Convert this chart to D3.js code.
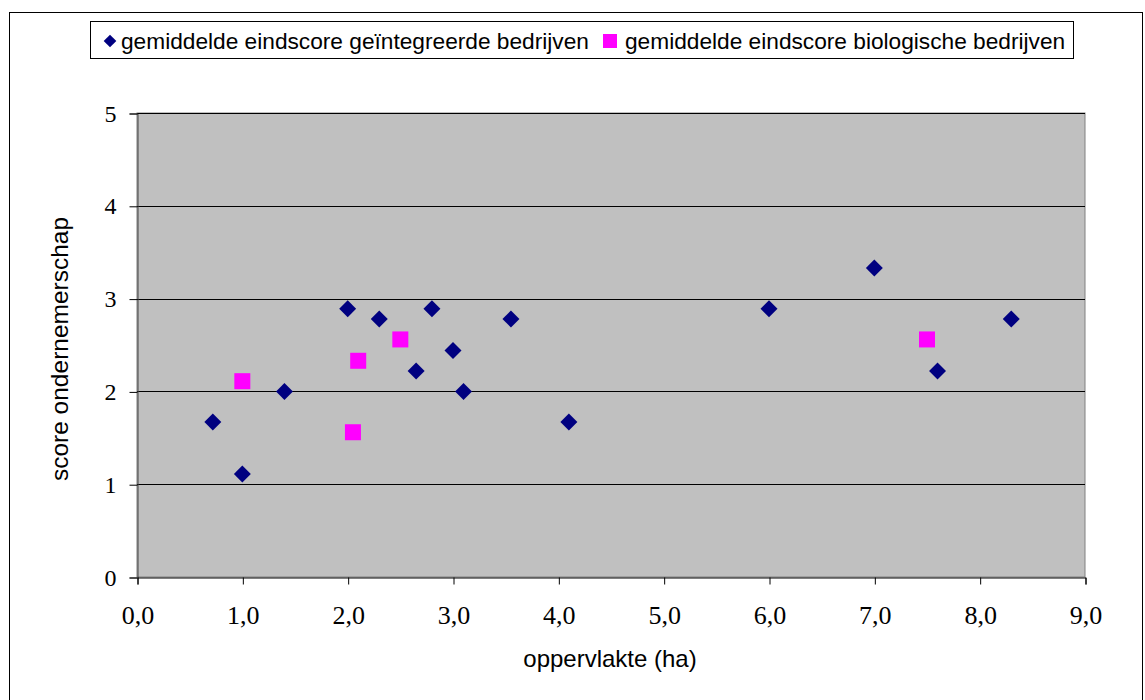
<!DOCTYPE html>
<html>
<head>
<meta charset="utf-8">
<script src="https://cdn.jsdelivr.net/npm/d3@7"></script>
<style>
  body { margin: 0; background: #fff; }
  svg { display: block; }
</style>
</head>
<body>
<div id="chart"></div>
<script>
// values
const integratedX = [0.72, 1.0, 1.4, 2.0, 2.3, 2.8, 2.65, 3.0, 3.1, 3.55, 4.1, 6.0, 7.0, 7.6, 8.3];
const integratedY = [1.67, 1.11, 2.0, 2.89, 2.78, 2.89, 2.22, 2.44, 2.0, 2.78, 1.67, 2.89, 3.33, 2.22, 2.78];
const organicX = [1.0, 2.05, 2.1, 2.5, 7.5];
const organicY = [2.11, 1.56, 2.33, 2.56, 2.56];
const xTicks = [0, 1, 2, 3, 4, 5, 6, 7, 8, 9];
const yTicks = [0, 1, 2, 3, 4, 5];
const seriesNames = ["gemiddelde eindscore geïntegreerde bedrijven", "gemiddelde eindscore biologische bedrijven"];

const W = 1145, H = 700;
const plot = { left: 137, top: 113, right: 1085, bottom: 577 };
const sans = "'Liberation Sans Narrow', 'Arial Narrow', 'Liberation Sans', Arial, sans-serif";
const serif = "'Liberation Serif', 'Times New Roman', serif";

const svg = d3.select("#chart").append("svg")
    .attr("width", W)
    .attr("height", H);

// outer chart border
svg.append("rect")
    .attr("x", 9.5).attr("y", 12.5)
    .attr("width", 1133).attr("height", 700)
    .attr("fill", "#fff")
    .attr("stroke", "#000")
    .attr("stroke-width", 1);

const x = d3.scaleLinear().domain([0, 9]).range([plot.left, plot.right]);
const y = d3.scaleLinear().domain([0, 5]).range([plot.bottom, plot.top]);

// plot background
svg.append("rect")
    .attr("x", plot.left).attr("y", plot.top)
    .attr("width", plot.right - plot.left)
    .attr("height", plot.bottom - plot.top)
    .attr("fill", "#c0c0c0")
    .attr("stroke", "#808080")
    .attr("stroke-width", 1);

// gridlines
svg.append("g")
    .selectAll("line")
    .data(yTicks.filter(d => d > 0))
    .enter().append("line")
    .attr("x1", plot.left).attr("x2", plot.right)
    .attr("y1", d => Math.round(y(d)) + 0.5)
    .attr("y2", d => Math.round(y(d)) + 0.5)
    .attr("stroke", "#000")
    .attr("stroke-width", 1);

// y axis
const yAxis = svg.append("g")
    .attr("transform", "translate(" + (plot.left + 0.5) + ",0.5)")
    .call(d3.axisLeft(y).tickValues(yTicks).tickSize(8).tickPadding(13).tickFormat(d3.format("d")));
yAxis.select(".domain").attr("stroke", "#444");
yAxis.selectAll(".tick line").attr("stroke", "#000");
yAxis.selectAll("text")
    .attr("font-family", serif)
    .attr("font-size", 24)
    .attr("fill", "#000");

// x axis
const xAxis = svg.append("g")
    .attr("transform", "translate(0.5," + (plot.bottom + 0.5) + ")")
    .call(d3.axisBottom(x).tickValues(xTicks).tickSize(7).tickPadding(21)
        .tickFormat(d => d.toFixed(1).replace(".", ",")));
xAxis.select(".domain").attr("stroke", "#000");
xAxis.selectAll(".tick line").attr("stroke", "#000");
xAxis.selectAll("text")
    .attr("font-family", serif)
    .attr("font-size", 26)
    .attr("fill", "#000");

// axis titles
svg.append("text")
    .attr("x", 610).attr("y", 667)
    .attr("text-anchor", "middle")
    .attr("font-family", sans)
    .attr("font-size", 24)
    .text("oppervlakte (ha)");

svg.append("text")
    .attr("transform", "translate(68,349) rotate(-90)")
    .attr("text-anchor", "middle")
    .attr("font-family", sans)
    .attr("font-size", 24.5)
    .text("score ondernemerschap");

// series
const integrated = integratedX.map((v, i) => ({ x: v, y: integratedY[i] }));
const organic = organicX.map((v, i) => ({ x: v, y: organicY[i] }));

const diamond = d3.symbol().type(d3.symbolSquare).size(144);

svg.append("g")
    .selectAll("path")
    .data(integrated)
    .enter().append("path")
    .attr("d", diamond)
    .attr("transform", d => "translate(" + x(d.x) + "," + y(d.y) + ") rotate(45)")
    .attr("fill", "#000080");

svg.append("g")
    .selectAll("rect")
    .data(organic)
    .enter().append("rect")
    .attr("x", d => x(d.x) - 8)
    .attr("y", d => y(d.y) - 8)
    .attr("width", 16).attr("height", 16)
    .attr("fill", "#ff00ff");

// legend
const legend = svg.append("g");
legend.append("rect")
    .attr("x", 90.5).attr("y", 21.5)
    .attr("width", 983).attr("height", 37)
    .attr("fill", "#fff")
    .attr("stroke", "#000");

legend.append("path")
    .attr("d", d3.symbol().type(d3.symbolSquare).size(80))
    .attr("transform", "translate(110,41) rotate(45)")
    .attr("fill", "#000080");
legend.append("text")
    .attr("x", 121).attr("y", 49)
    .attr("font-family", sans)
    .attr("font-size", 22.7)
    .text(seriesNames[0]);

legend.append("rect")
    .attr("x", 603).attr("y", 34)
    .attr("width", 14).attr("height", 14)
    .attr("fill", "#ff00ff");
legend.append("text")
    .attr("x", 625).attr("y", 49)
    .attr("font-family", sans)
    .attr("font-size", 22.7)
    .text(seriesNames[1]);
</script>
</body>
</html>
